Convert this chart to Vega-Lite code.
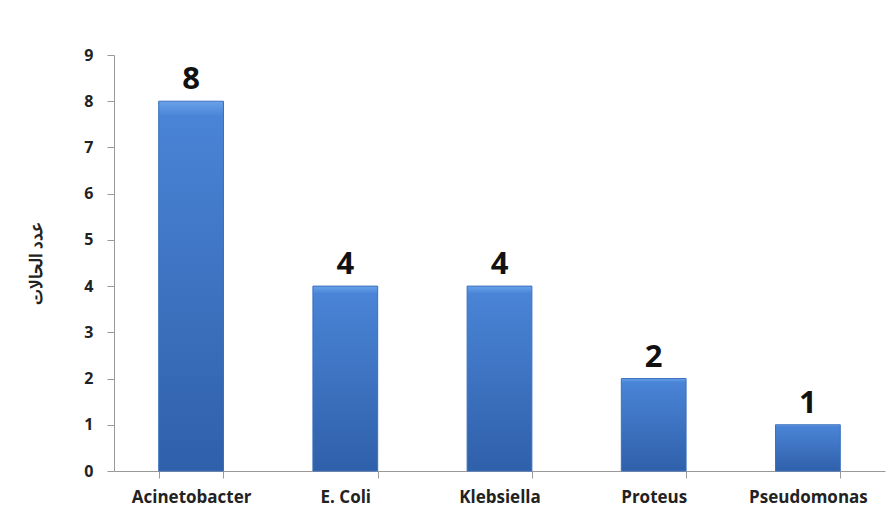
{
  "$schema": "https://vega.github.io/schema/vega-lite/v6.json",
  "width": 771,
  "height": 416,
  "autosize": {"type": "none"},
  "padding": {"left": 114, "top": 55, "right": 5, "bottom": 52},
  "background": "white",
  "config": {"view": {"stroke": null}, "font": "Open Sans"},
  "data": {"values": [
    {"organism": "Acinetobacter", "cases": 8},
    {"organism": "E. Coli", "cases": 4},
    {"organism": "Klebsiella", "cases": 4},
    {"organism": "Proteus", "cases": 2},
    {"organism": "Pseudomonas", "cases": 1}
  ]},
  "encoding": {
    "x": {"field": "organism", "type": "nominal", "sort": null,
      "scale": {"paddingInner": 0.58, "paddingOuter": 0.29},
      "axis": {"title": null, "labelAngle": 0, "labelFont": "Open Sans", "labelFontWeight": "bold", "labelFontSize": 17, "labelColor": "#222", "labelPadding": 11,
        "domainColor": "#999", "tickColor": "#999", "tickBand": "extent", "tickSize": 7}},
    "y": {"field": "cases", "type": "quantitative",
      "scale": {"domain": [0, 9]},
      "axis": {"title": "عدد الحالات", "titleFont": "Noto Sans", "titleFontSize": 17, "titleFontWeight": "bold", "titleColor": "#222", "titlePadding": 38,
        "values": [0,1,2,3,4,5,6,7,8,9], "grid": false, "labelFont": "Open Sans", "labelFontWeight": "bold", "labelFontSize": 16, "labelColor": "#222", "labelPadding": 14,
        "domainColor": "#999", "tickColor": "#999", "tickSize": 7}}
  },
  "layer": [
    {"mark": {"type": "bar",
      "color": {"gradient": "linear", "x1": 0, "y1": 0, "x2": 0, "y2": 1,
        "stops": [{"offset": 0, "color": "#6aa3ea"}, {"offset": 0.04, "color": "#4a84d6"}, {"offset": 1, "color": "#2f60aa"}]},
      "stroke": "#3a6fbf", "strokeWidth": 1}},
    {"mark": {"type": "text", "baseline": "alphabetic", "dy": -12, "fontSize": 31, "fontWeight": "bold", "font": "Open Sans", "color": "#111"},
      "encoding": {"text": {"field": "cases", "type": "quantitative"}}}
  ]
}
